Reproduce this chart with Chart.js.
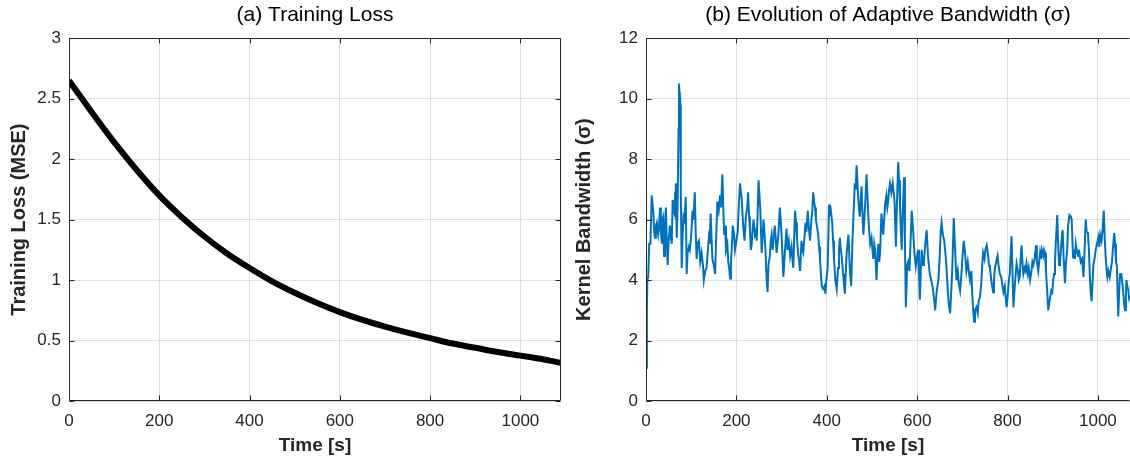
<!DOCTYPE html>
<html>
<head>
<meta charset="utf-8">
<script src="https://cdn.jsdelivr.net/npm/chart.js@4/dist/chart.umd.min.js"></script>
<style>
  body { margin: 0; background: #fff; }
  .box { position: absolute; top: 0; width: 565px; height: 460px; }
</style>
</head>
<body>
<div class="box" style="left:0"><canvas id="chart_Loss" width="565" height="460"></canvas></div>
<div class="box" style="left:565px"><canvas id="chart_Sigma" width="565" height="460"></canvas></div>
<script>
// (a) training loss
var lossTime = [0, 50, 100, 150, 200, 250, 300, 350, 400, 450, 500, 550, 600, 650, 700, 750, 800, 850, 900, 950, 1000, 1050, 1090];
var lossValue = [2.65, 2.39, 2.14, 1.91, 1.70, 1.52, 1.36, 1.22, 1.10, 0.99, 0.895, 0.81, 0.735, 0.67, 0.615, 0.565, 0.52, 0.475, 0.44, 0.405, 0.375, 0.345, 0.315];

// (b) kernel bandwidth sigma, rows of 10
var sigmaTime = [
  0, 2, 3, 5, 7, 9, 10, 12.5, 14, 16,
  18, 20, 22, 24, 26, 27, 29, 31, 33, 35,
  36, 38, 40, 42, 44, 46, 48, 50, 53, 55,
  57, 59, 61, 63, 64.5, 66, 68, 70, 72, 73,
  74, 75, 76, 77, 79, 81, 83, 85, 88, 90,
  92, 95, 97, 100, 103, 105, 108, 110, 112, 114,
  117, 120, 123, 126, 128, 131, 134, 137, 139, 141,
  143, 145, 147, 150, 153, 155, 158, 161, 164, 166,
  169, 171, 173, 175, 177, 180, 182, 184, 186, 188,
  190, 192, 195, 197, 200, 203, 205, 208, 210, 212,
  215, 218, 221, 224, 226, 228, 230, 232, 234, 236,
  238, 241, 243, 245, 247, 249, 251, 253, 256, 258,
  260, 262, 264, 267, 269, 271, 274, 276, 278, 280,
  282, 285, 287, 289, 291, 293, 296, 298, 300, 302,
  304, 306, 308, 311, 313, 316, 319, 322, 324, 326,
  328, 330, 332, 334, 337, 339, 341, 344, 346, 348,
  350, 353, 355, 358, 360, 363, 366, 368, 370, 372,
  374, 376, 378, 381, 383, 385, 387, 389, 392, 395,
  397, 399, 402, 405, 407, 409, 412, 414, 416, 419,
  422, 425, 427, 429, 431, 433, 436, 438, 440, 442,
  444, 446, 448, 451, 454, 457, 459, 462, 464, 466,
  469, 471, 473, 475, 477, 479, 481, 483, 485, 488,
  490, 492, 494, 496, 499, 501, 503, 505, 507, 510,
  512, 514, 516, 518, 521, 523, 525, 527, 529, 532,
  534, 536, 538, 540, 543, 546, 548, 550, 553, 555,
  558, 560, 562, 564, 566, 568, 571, 573, 575, 578,
  580, 583, 586, 588, 591, 594, 597, 600, 602, 604,
  606, 608, 610, 613, 615, 618, 621, 624, 628, 631,
  634, 636, 638, 640, 643, 647, 650, 652, 654, 657,
  660, 663, 665, 668, 670, 673, 676, 678, 681, 684,
  687, 690, 692, 695, 698, 700, 703, 706, 709, 712,
  715, 717, 720, 722, 724, 726, 728, 731, 734, 736,
  739, 742, 744, 746, 749, 751, 754, 757, 759, 761,
  764, 766, 768, 770, 772, 775, 778, 780, 783, 786,
  788, 791, 794, 796, 798, 801, 803, 805, 807, 809,
  811, 813, 816, 818, 820, 823, 825, 827, 829, 831,
  833, 835, 838, 840, 842, 845, 847, 850, 853, 855,
  857, 860, 863, 865, 868, 870, 872, 874, 876, 879,
  881, 883, 885, 888, 890, 892, 894, 897, 899, 901,
  903, 905, 907, 910, 912, 914, 916, 918, 920, 922,
  924, 927, 929, 932, 934, 937, 940, 942, 945, 947,
  949, 951, 953, 956, 958, 960, 962, 965, 968, 970,
  973, 975, 978, 980, 982, 984, 986, 988, 990, 993,
  995, 998, 1001, 1003, 1005, 1008, 1010, 1013, 1015, 1017,
  1019, 1021, 1023, 1026, 1028, 1031, 1033, 1036, 1038, 1040,
  1042, 1045, 1047, 1049, 1052, 1054, 1056, 1058, 1060, 1062,
  1063, 1065, 1067, 1069, 1071
];
var sigmaValue = [
  1.1, 3.0, 4.0, 4.1, 5.2, 5.2, 5.3, 6.8, 6.6, 6.3,
  5.6, 5.4, 5.8, 5.9, 5.6, 5.5, 5.8, 6.4, 5.6, 5.2,
  6.0, 6.1, 4.8, 5.6, 6.4, 5.3, 4.5, 5.3, 5.8, 5.4,
  5.2, 6.65, 6.3, 6.2, 6.9, 7.2, 5.4, 6.5, 9.0, 10.5,
  10.2, 10.1, 9.8, 7.0, 4.4, 5.5, 6.1, 6.0, 6.75, 4.2,
  4.9, 5.1, 5.0, 5.5, 6.3, 6.0, 6.9, 5.6, 4.7, 5.2,
  5.3, 4.6, 4.9, 4.5, 4.0, 4.3, 4.4, 5.0, 5.4, 5.2,
  6.2, 5.4, 4.7, 4.5, 4.2, 5.3, 6.6, 6.3, 6.8, 6.4,
  7.5, 6.4, 5.5, 5.8, 5.0, 5.2, 4.6, 4.4, 4.05, 4.6,
  5.1, 5.8, 5.5, 5.0, 5.3, 5.6, 6.4, 7.2, 6.9, 6.65,
  5.8, 5.3, 6.1, 6.4, 6.9, 6.1, 5.7, 5.0, 5.2, 5.7,
  6.0, 5.5, 5.6, 5.3, 6.2, 7.3, 6.8, 6.3, 4.9, 5.4,
  6.0, 5.6, 5.1, 4.0, 3.6, 4.5, 4.8, 5.3, 5.5, 5.0,
  5.3, 5.8, 5.4, 4.9, 5.2, 5.5, 6.4, 6.0, 5.5, 4.8,
  4.1, 4.6, 5.1, 5.7, 5.0, 5.3, 4.8, 5.1, 4.7, 4.4,
  5.5, 6.3, 5.9, 5.4, 4.8, 4.6, 4.3, 5.3, 5.0, 4.9,
  5.3, 5.9, 5.6, 6.3, 5.8, 5.3, 6.0, 6.3, 6.9, 6.6,
  6.4, 6.0, 5.8, 5.5, 5.1, 4.7, 4.2, 3.8, 3.7, 3.8,
  3.55, 4.0, 4.4, 6.5, 6.2, 6.3, 5.9, 5.3, 4.7, 4.0,
  3.7, 4.4, 5.0, 5.4, 5.0, 4.8, 4.2, 3.9, 3.55, 4.2,
  4.9, 5.2, 5.5, 4.4, 3.8, 5.4, 6.1, 7.2, 7.0, 7.8,
  6.9, 6.4, 6.1, 6.6, 7.1, 6.2, 5.5, 6.0, 6.5, 7.5,
  6.8, 6.1, 5.6, 5.2, 5.4, 5.0, 4.7, 5.2, 5.0, 4.0,
  4.7, 5.2, 4.6, 4.9, 6.2, 5.8, 5.5, 6.0, 6.5, 6.8,
  6.4, 6.6, 7.0, 7.2, 6.9, 7.2, 6.9, 6.6, 5.1, 6.4,
  7.9, 7.3, 6.5, 5.6, 5.0, 6.2, 7.4, 5.2, 3.1, 4.5,
  4.6, 4.3, 5.5, 6.3, 5.65, 4.9, 4.45, 4.8, 5.0, 4.2,
  3.35, 4.3, 5.0, 4.5, 4.6, 5.2, 5.65, 4.8, 4.2, 4.0,
  3.8, 3.55, 3.3, 3.0, 3.6, 4.0, 4.8, 5.6, 5.9, 5.5,
  5.3, 4.8, 4.4, 3.6, 3.2, 2.9, 3.8, 4.5, 6.05, 5.0,
  4.0, 4.3, 3.9, 3.65, 4.2, 4.7, 5.3, 4.9, 4.3, 4.6,
  4.2, 4.0, 4.3, 3.5, 3.0, 2.62, 3.0, 3.1, 2.9, 3.3,
  3.45, 3.9, 4.5, 4.9, 4.7, 5.0, 5.15, 4.8, 4.5, 4.4,
  4.0, 3.8, 3.6, 4.0, 4.4, 4.6, 4.8, 4.5, 4.2, 4.1,
  3.9, 3.6, 3.8, 3.4, 3.1, 3.6, 4.0, 4.2, 4.9, 5.45,
  4.2, 3.1, 3.8, 4.2, 4.55, 4.3, 4.0, 4.1, 4.7, 5.15,
  4.6, 4.2, 4.4, 4.3, 4.55, 4.2, 4.4, 4.0, 4.3, 4.6,
  4.5, 4.7, 5.15, 4.6, 4.3, 4.6, 4.9, 4.7, 5.0, 4.8,
  5.0, 4.9, 4.3, 3.6, 3.0, 3.2, 3.4, 3.65, 3.6, 4.0,
  4.2, 4.6, 5.3, 6.15, 5.2, 4.5, 4.55, 5.0, 5.4, 5.65,
  4.8, 3.9, 4.5, 5.0, 5.8, 6.15, 6.1, 6.0, 4.75, 5.0,
  4.7, 5.2, 5.0, 4.8, 5.0, 4.8, 4.6, 4.7, 4.1, 4.8,
  6.0, 5.6, 5.55, 5.0, 4.2, 3.6, 3.3, 3.9, 4.5, 4.75,
  5.0, 5.2, 5.4, 5.1, 5.5, 5.3, 5.6, 6.3, 5.4, 4.8,
  4.35, 4.1, 4.3, 4.1, 4.3, 4.6, 5.0, 5.55, 5.2, 4.6,
  4.45, 2.8, 3.6, 4.2, 4.2, 3.9, 3.6, 3.2, 3.0, 3.5,
  4.0, 3.8, 3.7, 3.4, 3.5
];

var textColor = '#262626';
var gridColor = 'rgba(38,38,38,0.15)';
var fontFamily = '"Liberation Sans", Arial, Helvetica, sans-serif';

function toPoints(xs, ys) {
  var pts = [];
  for (var i = 0; i < xs.length; i++) {
    pts.push({ x: xs[i], y: ys[i] });
  }
  return pts;
}

// matlab style box with inward ticks
var boxPlugin = {
  id: 'matlabBox',
  afterDraw: function (chart, args, opts) {
    var ctx = chart.ctx;
    var a = chart.chartArea;
    var xs = chart.scales.x;
    var ys = chart.scales.y;
    var L = Math.round(a.left) + 0.5, R = Math.round(a.right) - 0.5;
    var T = Math.round(a.top) + 0.5, B = Math.round(a.bottom) - 0.5;
    ctx.save();
    ctx.strokeStyle = textColor;
    ctx.lineWidth = 1;
    ctx.beginPath();
    ctx.moveTo(R, T); ctx.lineTo(L, T); ctx.lineTo(L, B); ctx.lineTo(R, B);
    if (opts.right) ctx.lineTo(R, T);
    xs.ticks.forEach(function (t) {
      var px = Math.round(xs.getPixelForValue(t.value)) + 0.5;
      ctx.moveTo(px, B); ctx.lineTo(px, B - 5);
      ctx.moveTo(px, T); ctx.lineTo(px, T + 5);
    });
    ys.ticks.forEach(function (t) {
      var py = Math.round(ys.getPixelForValue(t.value)) + 0.5;
      ctx.moveTo(L, py); ctx.lineTo(L + 5, py);
      if (opts.right) { ctx.moveTo(R, py); ctx.lineTo(R - 5, py); }
    });
    ctx.stroke();
    ctx.restore();
  }
};

function plainLabel(v) {
  return String(v);
}

function makeOptions(title, yLabel, xMax, yMax, yStep, yWidth, padRight, hasRight) {
  return {
    responsive: false,
    animation: false,
    layout: { padding: { left: 0, right: padRight, top: 0, bottom: 0 } },
    plugins: {
      legend: { display: false },
      tooltip: { enabled: false },
      title: {
        display: true,
        text: title,
        fullSize: false,
        color: '#000',
        font: { family: fontFamily, size: 21, weight: 'normal' },
        padding: { top: 3, bottom: 10 }
      },
      matlabBox: { right: hasRight }
    },
    scales: {
      x: {
        type: 'linear',
        min: 0,
        max: xMax,
        afterFit: function (s) { s.height = 59; },
        border: { display: false },
        grid: { color: gridColor, drawTicks: false },
        ticks: {
          stepSize: 200,
          includeBounds: false,
          autoSkip: false,
          maxRotation: 0,
          padding: 10,
          color: textColor,
          font: { family: fontFamily, size: 17 },
          callback: plainLabel
        },
        title: {
          display: true,
          text: 'Time [s]',
          color: textColor,
          font: { family: fontFamily, size: 19, weight: 'bold' },
          padding: { top: 0, bottom: 3 }
        }
      },
      y: {
        min: 0,
        max: yMax,
        afterFit: function (s) { s.width = yWidth; },
        border: { display: false },
        grid: { color: gridColor, drawTicks: false },
        ticks: {
          stepSize: yStep,
          padding: 8,
          color: textColor,
          font: { family: fontFamily, size: 17 },
          callback: plainLabel
        },
        title: {
          display: true,
          text: yLabel,
          color: textColor,
          font: { family: fontFamily, size: 20, weight: 'bold' },
          padding: { top: 7, bottom: 0 }
        }
      }
    }
  };
}

function createLossChart() {
  new Chart(document.getElementById('chart_Loss'), {
    type: 'line',
    data: {
      datasets: [{
        label: 'Training Loss',
        data: toPoints(lossTime, lossValue),
        borderColor: '#000000',
        borderWidth: 6,
        pointRadius: 0,
        cubicInterpolationMode: 'monotone'
      }]
    },
    options: makeOptions('(a) Training Loss', 'Training Loss (MSE)', 1090, 3, 0.5, 69, 4, true),
    plugins: [boxPlugin]
  });
}

function createSigmaChart() {
  new Chart(document.getElementById('chart_Sigma'), {
    type: 'line',
    data: {
      datasets: [{
        label: 'Kernel Bandwidth',
        data: toPoints(sigmaTime, sigmaValue),
        borderColor: '#0072BD',
        borderWidth: 2,
        pointRadius: 0,
        tension: 0
      }]
    },
    options: makeOptions('(b) Evolution of Adaptive Bandwidth (σ)', 'Kernel Bandwidth (σ)', 1071, 12, 2, 81, 0, false),
    plugins: [boxPlugin]
  });
}

createLossChart();
createSigmaChart();
</script>
</body>
</html>
